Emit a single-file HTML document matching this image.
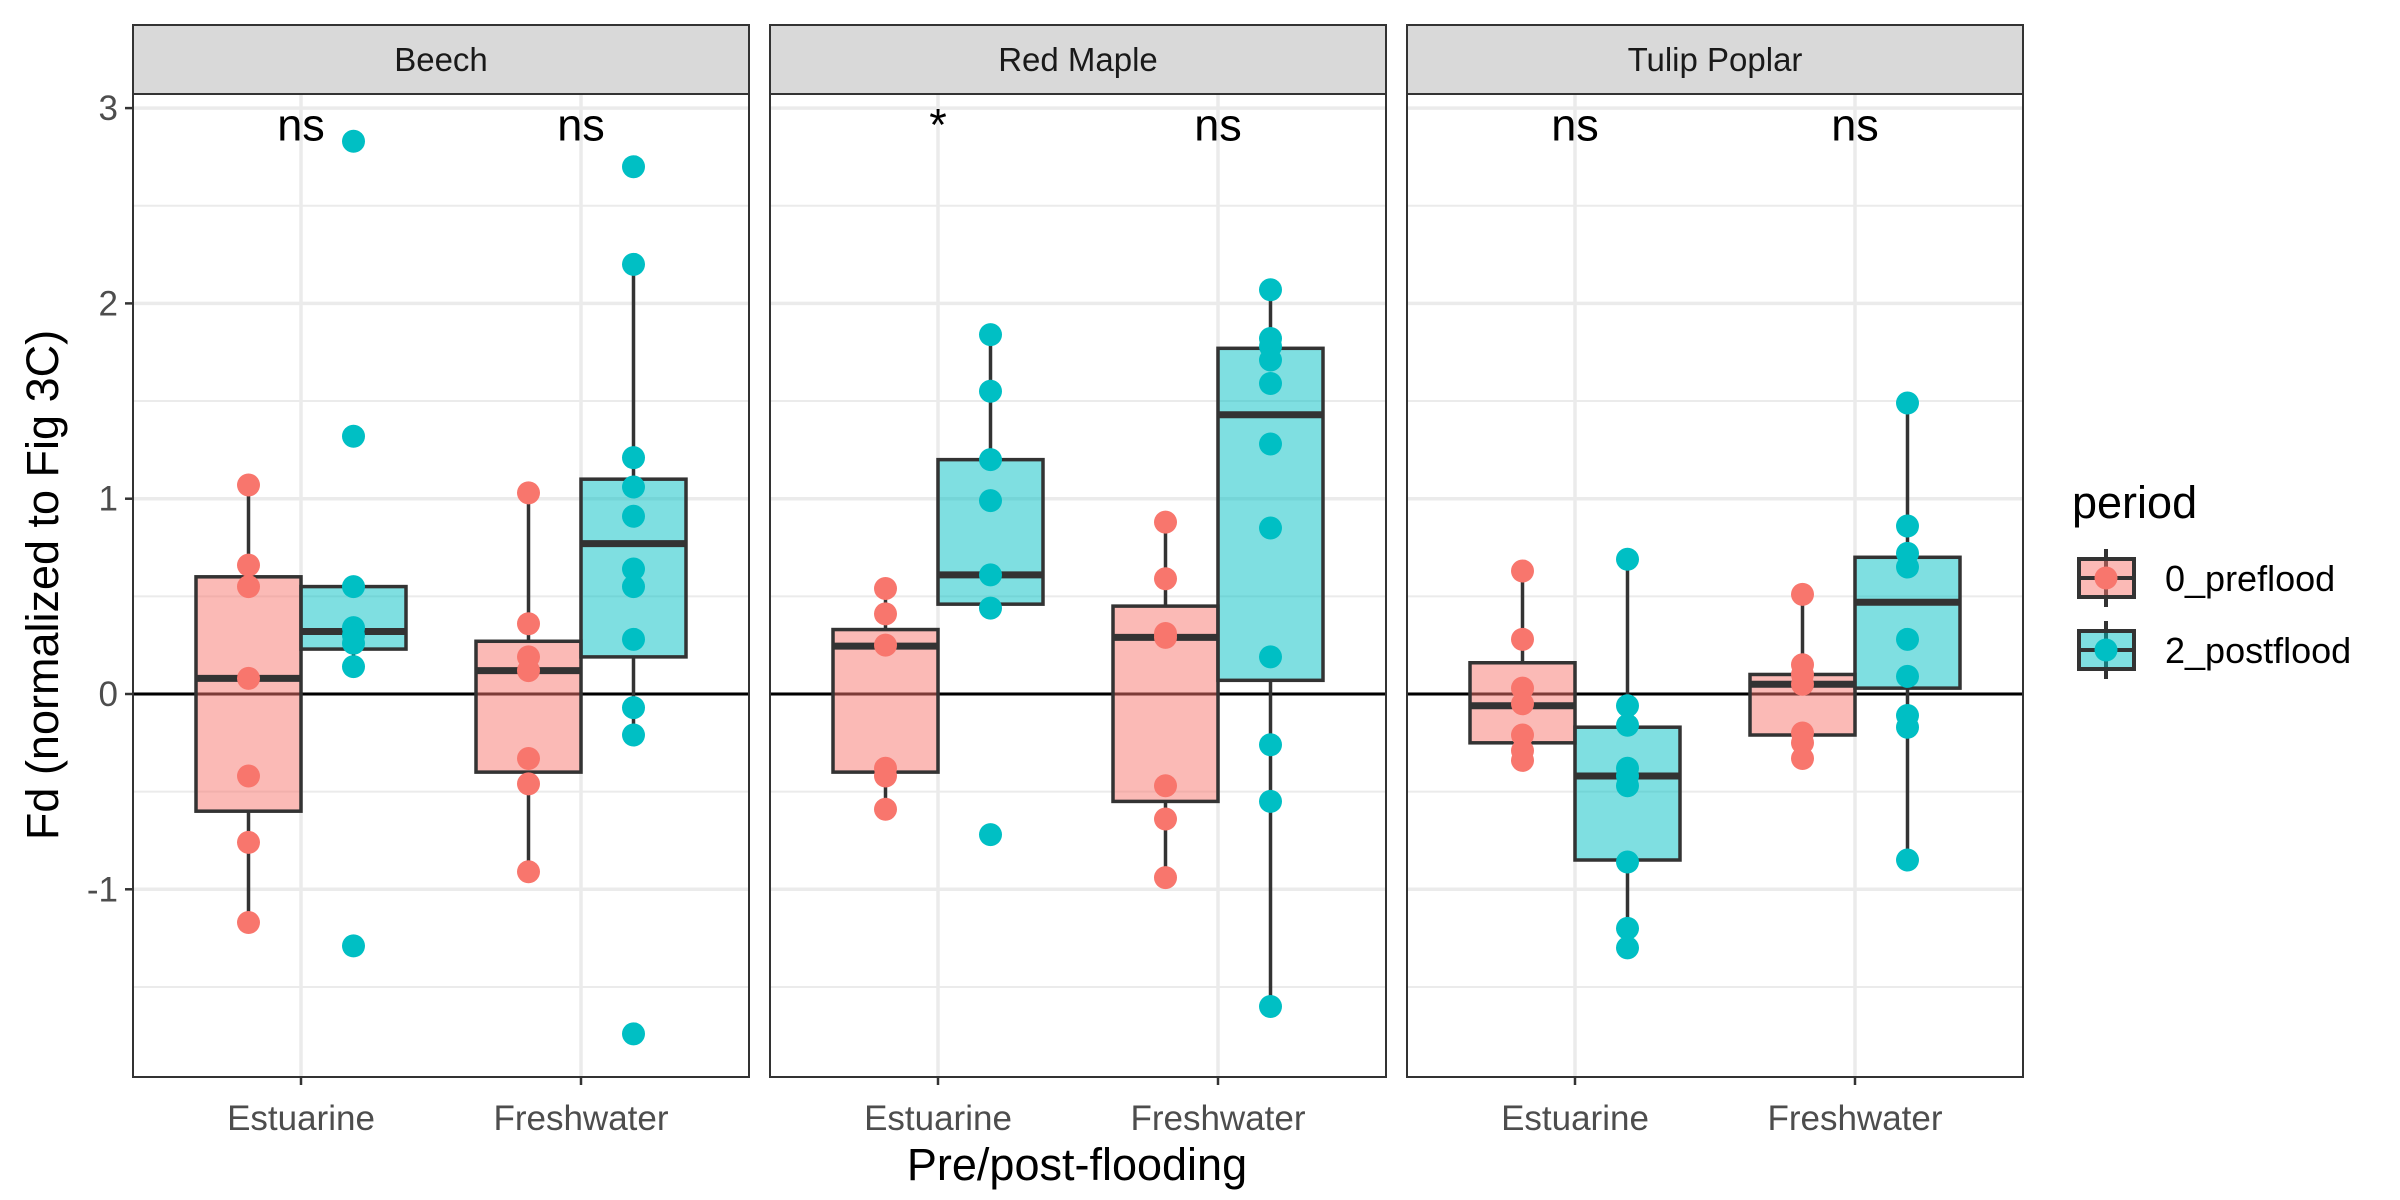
<!DOCTYPE html>
<html><head><meta charset="utf-8">
<style>
html,body{margin:0;padding:0;background:#fff;}
svg{display:block;font-family:"Liberation Sans",Arial,sans-serif;}
</style></head>
<body>
<svg id="chart" width="2400" height="1200" viewBox="0 0 2400 1200" xmlns="http://www.w3.org/2000/svg">
<rect x="0" y="0" width="2400" height="1200" fill="#fff"/>
<g id="panels"></g>
<text transform="translate(58,585) rotate(-90)" text-anchor="middle" font-size="45" fill="#000">Fd (normalized to Fig 3C)</text>
<text x="1077" y="1180" text-anchor="middle" font-size="45" fill="#000">Pre/post-flooding</text>
<g id="legend">
  <text x="2072" y="518" font-size="45" fill="#000">period</text>
</g>
</svg>
<script>
// ---- data ----
const facets = ["Beech", "Red Maple", "Tulip Poplar"];
const categories = ["Estuarine", "Freshwater"];
const periods = ["0_preflood", "2_postflood"];
const yTicks = [-1, 0, 1, 2, 3];
const yTickLabels = ["-1", "0", "1", "2", "3"];
// points[facet][category][period]
const beechPoints = [
  [[1.07,0.66,0.55,0.08,-0.42,-0.76,-1.17],[2.83,1.32,0.55,0.34,0.30,0.26,0.14,-1.29]],
  [[1.03,0.36,0.19,0.12,-0.33,-0.46,-0.91],[2.70,2.20,1.21,1.06,0.91,0.64,0.55,0.28,-0.07,-0.21,-1.74]]
];
const redMaplePoints = [
  [[0.54,0.41,0.25,-0.38,-0.42,-0.59],[1.84,1.55,1.20,0.99,0.61,0.44,-0.72]],
  [[0.88,0.59,0.31,0.29,-0.47,-0.64,-0.94],[2.07,1.82,1.78,1.71,1.59,1.28,0.85,0.19,-0.26,-0.55,-1.60]]
];
const tulipPoints = [
  [[0.63,0.28,0.03,-0.05,-0.21,-0.29,-0.34],[0.69,-0.06,-0.16,-0.38,-0.42,-0.47,-0.86,-1.20,-1.30]],
  [[0.51,0.15,0.10,0.05,-0.20,-0.25,-0.33],[1.49,0.86,0.72,0.65,0.28,0.09,-0.11,-0.17,-0.85]]
];
// box stats [whiskerLow, q1, median, q3, whiskerHigh]
const beechBoxes = [
  [[-1.17,-0.60,0.08,0.60,1.07],[0.14,0.23,0.32,0.55,0.55]],
  [[-0.91,-0.40,0.12,0.27,1.03],[-0.21,0.19,0.77,1.10,2.20]]
];
const redMapleBoxes = [
  [[-0.59,-0.40,0.245,0.33,0.54],[0.44,0.46,0.61,1.20,1.84]],
  [[-0.94,-0.55,0.29,0.45,0.88],[-1.60,0.07,1.43,1.77,2.07]]
];
const tulipBoxes = [
  [[-0.34,-0.25,-0.06,0.16,0.63],[-1.30,-0.85,-0.42,-0.17,0.69]],
  [[-0.33,-0.21,0.05,0.10,0.51],[-0.85,0.03,0.47,0.70,1.49]]
];
const sigLabels = [["ns","ns"],["*","ns"],["ns","ns"]];
const sigY = 2.92;

const allPoints = [beechPoints, redMaplePoints, tulipPoints];
const allBoxes = [beechBoxes, redMapleBoxes, tulipBoxes];

// ---- layout ----
const NS = "http://www.w3.org/2000/svg";
const panelLefts = [133, 770, 1407];
const panelW = 616;
const plotTop = 94, plotBottom = 1077, stripTop = 25;
const colors = ["#F8766D", "#00BFC4"];
function yScale(v){ return 694 - v * 195.3; }
function xScale(left, pos){ return left + (pos - 0.4) / 2.2 * panelW; }
function mk(tag, attrs, parent){
  const e = document.createElementNS(NS, tag);
  for (const k in attrs) e.setAttribute(k, attrs[k]);
  parent.appendChild(e); return e;
}
const root = document.getElementById("panels");

facets.forEach((fname, fi) => {
  const L = panelLefts[fi];
  const g = mk("g", {}, root);
  
  
  [-1.5,-0.5,0.5,1.5,2.5].forEach(v => {
    const l = mk("line", {x1:L, x2:L+panelW, y1:yScale(v), y2:yScale(v), stroke:"#ebebeb", "stroke-width":2}, g);
    
    
  });
  yTicks.forEach(v => {
    const l = mk("line", {x1:L, x2:L+panelW, y1:yScale(v), y2:yScale(v), stroke:"#ebebeb", "stroke-width":3.5}, g);
    
    
  });
  categories.forEach((c, ci) => {
    const x = xScale(L, ci + 1);
    const l = mk("line", {x1:x, x2:x, y1:plotTop, y2:plotBottom, stroke:"#ebebeb", "stroke-width":3.5}, g);
    
    
  });
  const z = mk("line", {x1:L, x2:L+panelW, y1:yScale(0), y2:yScale(0), stroke:"#000", "stroke-width":3}, g);
  
  
  categories.forEach((c, ci) => {
    periods.forEach((p, pi) => {
      const st = allBoxes[fi][ci][pi];
      const cx = xScale(L, ci + 1 + (pi === 0 ? -0.1875 : 0.1875));
      const hw = 0.1875 / 2.2 * panelW;
      const bg = mk("g", {}, g);
      
      
      mk("line", {x1:cx, x2:cx, y1:yScale(st[4]), y2:yScale(st[3]), stroke:"#333", "stroke-width":3.5}, bg);
      mk("line", {x1:cx, x2:cx, y1:yScale(st[1]), y2:yScale(st[0]), stroke:"#333", "stroke-width":3.5}, bg);
      mk("rect", {x:cx-hw, y:yScale(st[3]), width:2*hw, height:yScale(st[1])-yScale(st[3]), fill:colors[pi], "fill-opacity":0.5, stroke:"#333", "stroke-width":3.5}, bg);
      mk("line", {x1:cx-hw, x2:cx+hw, y1:yScale(st[2]), y2:yScale(st[2]), stroke:"#333", "stroke-width":7}, bg);
    });
  });
  categories.forEach((c, ci) => {
    periods.forEach((p, pi) => {
      const cx = xScale(L, ci + 1 + (pi === 0 ? -0.1875 : 0.1875));
      allPoints[fi][ci][pi].forEach(v => {
        const pt = mk("circle", {cx:cx, cy:yScale(v), r:11.5, fill:colors[pi]}, g);
        
        
      });
    });
  });
  categories.forEach((c, ci) => {
    const t = mk("text", {x:xScale(L, ci+1), y:yScale(sigY)+17, "text-anchor":"middle", "font-size":45, fill:"#000"}, g);
    t.textContent = sigLabels[fi][ci];
    
    
  });
  const b = mk("rect", {x:L, y:plotTop, width:panelW, height:plotBottom-plotTop, fill:"none", stroke:"#333", "stroke-width":2}, g);
  
  
  const s = mk("rect", {x:L, y:stripTop, width:panelW, height:plotTop-stripTop, fill:"#d9d9d9", stroke:"#333", "stroke-width":2}, g);
  
  
  const st = mk("text", {x:L+panelW/2, y:71, "text-anchor":"middle", "font-size":33, fill:"#1a1a1a"}, g);
  st.textContent = fname;
  
  
  categories.forEach((c, ci) => {
    const x = xScale(L, ci+1);
    mk("line", {x1:x, x2:x, y1:plotBottom, y2:plotBottom+8, stroke:"#333", "stroke-width":2.5}, g);
    const t = mk("text", {x:x, y:1130, "text-anchor":"middle", "font-size":35, fill:"#4d4d4d"}, g);
    t.textContent = c;
    
    
  });
});
yTicks.forEach((v, i) => {
  mk("line", {x1:125, x2:133, y1:yScale(v), y2:yScale(v), stroke:"#333", "stroke-width":2.5}, root);
  const t = mk("text", {x:118, y:yScale(v)+12, "text-anchor":"end", "font-size":35, fill:"#4d4d4d"}, root);
  t.textContent = yTickLabels[i];
  
  
});
const lg = document.getElementById("legend");
periods.forEach((p, pi) => {
  const cy = 578 + pi * 72;
  const kg = mk("g", {}, lg);
  
  
  mk("line", {x1:2106, x2:2106, y1:cy-29, y2:cy+29, stroke:"#333", "stroke-width":4}, kg);
  mk("rect", {x:2079, y:cy-19, width:55, height:38, fill:colors[pi], "fill-opacity":0.5, stroke:"#333", "stroke-width":4}, kg);
  mk("line", {x1:2079, x2:2134, y1:cy, y2:cy, stroke:"#333", "stroke-width":4}, kg);
  mk("circle", {cx:2106, cy:cy, r:11.5, fill:colors[pi]}, kg);
  const t = mk("text", {x:2165, y:cy+13, "font-size":36, fill:"#000"}, kg);
  t.textContent = p;
});
</script>
</body></html>
